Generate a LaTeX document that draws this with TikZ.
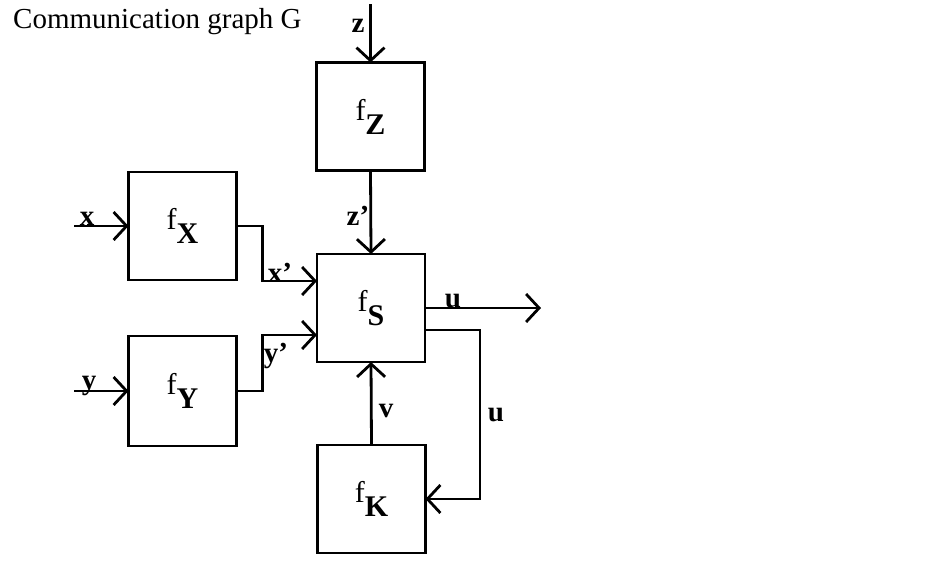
\documentclass[tikz,border=0pt]{standalone}
\usepackage{fontspec}
\setmainfont{Liberation Serif}
\usetikzlibrary{arrows.meta,calc}
\tikzset{
  blk/.style={draw, line width=2.8pt, minimum width=108pt, minimum height=108pt, inner sep=0pt, outer sep=0pt},
  arr/.style={line width=2.8pt, -{Straight Barb[length=13pt,width=28pt]}},
  lbl/.style={anchor=base, inner sep=0pt, font=\fontsize{29}{29}\selectfont\bfseries},
}
\newcommand{\fsub}[1]{{\fontsize{30}{30}\selectfont f\raisebox{-14pt}{\fontsize{30}{30}\selectfont\bfseries #1}}}
\begin{document}
\begin{tikzpicture}[x=1pt,y=-1pt]
\useasboundingbox (0,0) rectangle (935,571);
\node[anchor=base west, inner sep=0pt, font=\fontsize{29}{29}\selectfont] (title) at (13,28) {Communication graph G};
\node[blk] (fZ) at (370.5,116.5) {\fsub{Z}};
\node[blk] (fX) at (182.5,226) {\fsub{X}};
\node[blk] (fS) at (371,308) {\fsub{S}};
\node[blk, minimum height=110pt] (fY) at (182.5,391) {\fsub{Y}};
\node[blk] (fK) at (371.5,499) {\fsub{K}};
\coordinate (zin) at (370.5,4);
\coordinate (xin) at (74,226);
\coordinate (yin) at (74,391);
\coordinate (uout) at (541,308);
\draw[arr] (zin) -- (fZ.north);
\draw[arr] (fZ.south) -- (fS.north);
\draw[arr] (xin) -- (fX.west);
\draw[arr] (yin) -- (fY.west);
\draw[arr] (fX.east) -- ++(26,0) |- ($(fS.west)+(0,-27)$);
\draw[arr] (fY.east) -- ++(26,0) |- ($(fS.west)+(0,27)$);
\draw[arr] (fS.east) -- (uout);
\draw[arr] ($(fS.east)+(0,22)$) -- ++(55,0) |- (fK.east);
\draw[arr] (fK.north) -- (fS.south);
\node[lbl] (lz) at (358,32) {z};
\node[lbl] (lzp) at (358,225) {z’};
\node[lbl] (lx) at (87,225) {x};
\node[lbl] (lxp) at (280,282) {x’};
\node[lbl] (ly) at (89,389) {y};
\node[lbl] (lyp) at (276,362) {y’};
\node[lbl] (lu) at (453,307) {u};
\node[lbl] (lu2) at (496,421) {u};
\node[lbl] (lv) at (386,417) {v};
\end{tikzpicture}
\end{document}
